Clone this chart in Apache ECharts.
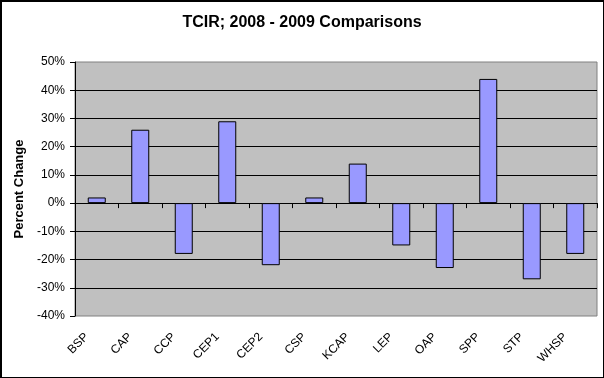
<!DOCTYPE html>
<html>
<head>
<meta charset="utf-8">
<script src="https://cdn.jsdelivr.net/npm/echarts@6/dist/echarts.min.js"></script>
<style>
html, body { margin: 0; padding: 0; background: #fff; }
#wrap { position: relative; width: 604px; height: 378px; }
#chart { width: 604px; height: 378px; }
#frame {
    position: absolute; left: 0; top: 0; width: 604px; height: 378px;
    box-sizing: border-box; border: 1px solid #000; border-top-width: 2px; border-left-width: 2px;
    pointer-events: none;
}
</style>
</head>
<body>
<div id="wrap">
    <div id="chart"></div>
    <div id="frame"></div>
</div>
<script>
// programs along the x axis
var categories = ['BSP', 'CAP', 'CCP', 'CEP1', 'CEP2', 'CSP', 'KCAP', 'LEP', 'OAP', 'SPP', 'STP', 'WHSP'];
// percent change 2008 -> 2009
var pctChange = [2, 26, -18, 29, -22, 2, 14, -15, -23, 44, -27, -18];

var font = '"Liberation Sans", Arial, sans-serif';

var chart = echarts.init(document.getElementById('chart'));
chart.setOption({
    backgroundColor: '#fff',
    animation: false,
    title: {
        text: 'TCIR; 2008 - 2009 Comparisons',
        left: 'center',
        top: 10,
        textStyle: { fontFamily: font, fontSize: 16, fontWeight: 'bold', color: '#000' }
    },
    grid: {
        left: 75,
        right: 7,
        top: 62,
        bottom: 62,
        show: true,
        backgroundColor: '#c0c0c0',
        borderColor: '#808080',
        borderWidth: 1
    },
    xAxis: [{
        type: 'category',
        position: 'bottom',
        data: categories,
        axisLine: { show: false, onZero: false },
        axisTick: { show: false },
        axisLabel: {
            interval: 0,
            rotate: 45,
            margin: 9,
            padding: [0, 14, 0, 0],
            fontFamily: font,
            fontSize: 12,
            color: '#000'
        }
    }, {
        type: 'category',
        position: 'top',
        data: categories,
        axisLine: { show: true, onZero: true, lineStyle: { color: '#000', width: 1 } },
        axisTick: { show: true, inside: true, length: 5, interval: 0, lineStyle: { color: '#000' } },
        axisLabel: { show: false },
        splitLine: { show: false }
    }],
    yAxis: {
        type: 'value',
        min: -40,
        max: 50,
        interval: 10,
        name: 'Percent Change',
        nameLocation: 'middle',
        nameGap: 46,
        nameTextStyle: { fontFamily: font, fontSize: 13, fontWeight: 'bold', color: '#000' },
        axisLine: { show: true, lineStyle: { color: '#000' } },
        axisTick: { show: true, length: 5, lineStyle: { color: '#000' } },
        axisLabel: {
            margin: 10,
            fontFamily: font,
            fontSize: 12,
            color: '#000',
            formatter: function (v) { return v + '%'; }
        },
        splitLine: { show: true, showMinLine: false, showMaxLine: false, lineStyle: { color: '#000', width: 1 } }
    },
    series: [{
        type: 'bar',
        xAxisIndex: 0,
        data: pctChange,
        barWidth: 18,
        itemStyle: { color: '#9999ff', borderColor: '#000', borderWidth: 1 }
    }]
});
</script>
</body>
</html>
